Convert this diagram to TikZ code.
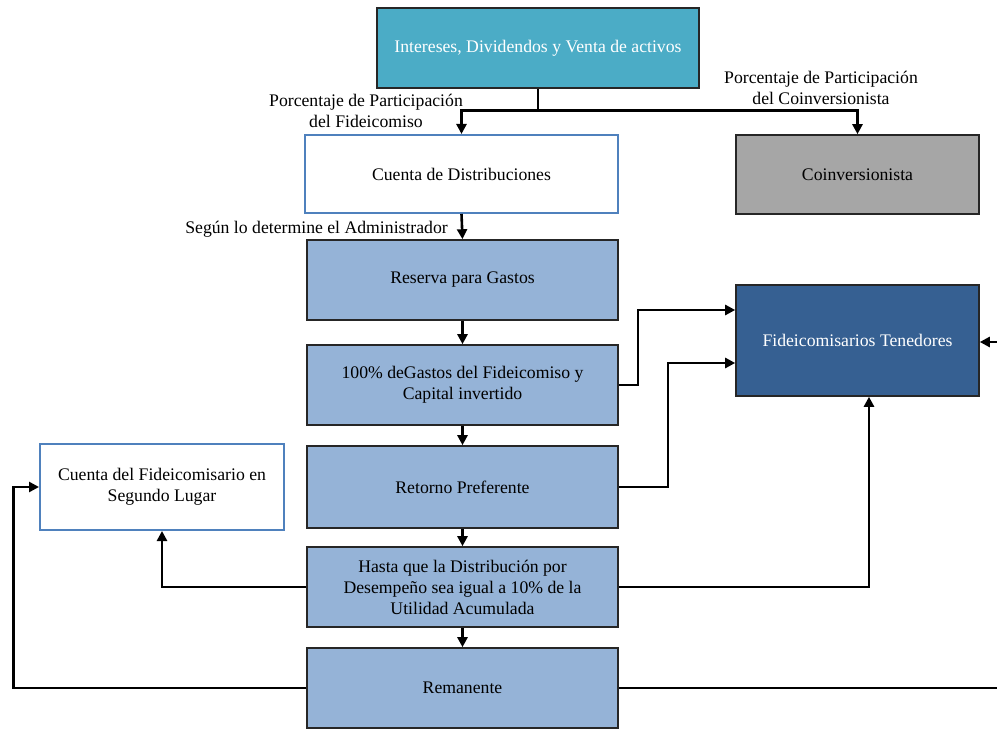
\documentclass[tikz,border=0pt]{standalone}
\usepackage{fontspec}
\setmainfont{Liberation Serif}
\usetikzlibrary{arrows.meta}
\definecolor{tealbox}{HTML}{4BACC6}
\definecolor{lightblue}{HTML}{95B3D7}
\definecolor{darkblue}{HTML}{366092}
\definecolor{greybox}{HTML}{A6A6A6}
\definecolor{edgeblue}{HTML}{4F81BD}
\begin{document}
\begin{tikzpicture}[x=1pt,y=-1pt,
    every node/.style={font=\fontsize{17.7}{21}\selectfont},
    box/.style={draw=black!85, line width=1.6pt, minimum width=311pt, minimum height=80pt, align=center, inner sep=3pt},
    stepbox/.style={box, fill=lightblue},
    whitebox/.style={box, draw=edgeblue, line width=2pt, fill=white},
    conn/.style={line width=2.6pt},
    arr/.style={conn, -{Triangle[length=10pt,width=10pt]}},
    lbl/.style={align=center, inner sep=0pt}]
\useasboundingbox (0,0) rectangle (997,730);

% fuente y reparto
\node[box, fill=tealbox, text=white, minimum width=322pt] (src) at (538,48) {Intereses, Dividendos y Venta de activos};
\node[whitebox, minimum width=313pt, minimum height=78pt] (dist) at (461.5,174) {Cuenta de Distribuciones};
\node[box, fill=greybox, minimum width=243pt, minimum height=79pt] (coin) at (857.5,174.5) {Coinversionista};

% cascada
\node[stepbox] (res) at (462.5,280) {Reserva para Gastos};
\node[stepbox] (gas) at (462.5,385) {100\% deGastos del Fideicomiso y\\Capital invertido};
\node[stepbox, minimum height=82pt] (ret) at (462.5,487) {Retorno Preferente};
\node[stepbox] (hasta) at (462.5,587) {Hasta que la Distribución por\\Desempeño sea igual a 10\% de la\\Utilidad Acumulada};
\node[stepbox] (rem) at (462.5,688) {Remanente};

% destinos
\node[box, fill=darkblue, text=white, minimum width=243pt, minimum height=111pt] (ten) at (857.5,340.5) {Fideicomisarios Tenedores};
\node[whitebox, minimum width=244pt, minimum height=86pt] (seg) at (162,487) {Cuenta del Fideicomisario en\\Segundo Lugar};

% etiquetas
\node[lbl] (lfid) at (366,111) {Porcentaje de Participación\\del Fideicomiso};
\node[lbl] (lcoin) at (821,88) {Porcentaje de Participación\\del Coinversionista};
\node[lbl, anchor=east] (ladm) at (448,229) {Según lo determine el Administrador};

% conectores
\draw[conn] (src.south) -- ++(0,22) coordinate (split);
\draw[arr] (split) -| (dist.north);
\draw[arr] (split) -| (coin.north);
\draw[arr] (dist.south) -- (res.north);
\draw[arr] (res.south) -- (gas.north);
\draw[arr] (gas.south) -- (ret.north);
\draw[arr] (ret.south) -- (hasta.north);
\draw[arr] (hasta.south) -- (rem.north);
\draw[arr] (gas.east) -- ++(19,0) |- ([yshift=30.5pt]ten.west);
\draw[arr] (ret.east) -- ++(49,0) |- ([yshift=-22.5pt]ten.west);
\draw[arr] (hasta.east) -| ([xshift=11.5pt]ten.south);
\draw[arr] (hasta.west) -| (seg.south);
\draw[arr] (rem.west) -- ++(-293,0) |- (seg.west);
\begin{scope}
\clip (0,0) rectangle (997,730);
\draw[arr] (rem.east) -- ++(400,0) |- ([yshift=-1.5pt]ten.east);
\end{scope}
\end{tikzpicture}
\end{document}
